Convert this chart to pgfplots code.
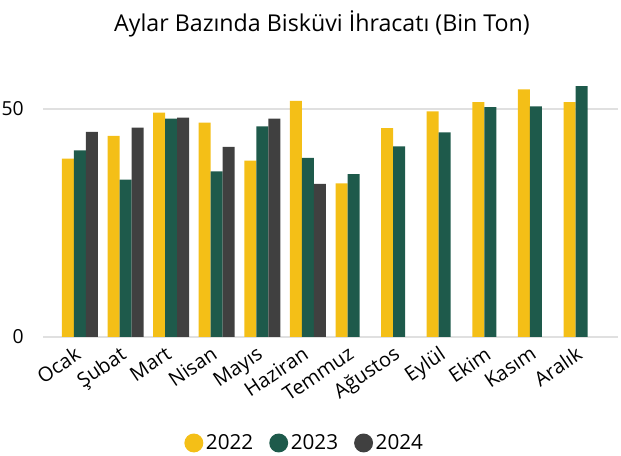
\documentclass[border=0pt]{standalone}
\usepackage{pgfplots}
\pgfplotsset{compat=1.18}
\usepackage{fontspec}
\setmainfont{Open Sans}
\definecolor{cy}{HTML}{F4BF17}
\definecolor{cg}{HTML}{1E5A4B}
\definecolor{cd}{HTML}{404040}
\pgfplotsset{circ/.style={legend image code/.code={\fill[##1] (0pt,0pt) circle (7.1pt);}}}
\pgfplotstableread{
x y
0 39.1
1 44.1
2 49.2
3 47.0
4 38.7
5 51.8
6 33.7
7 45.8
8 49.5
9 51.5
10 54.3
11 51.5
}\dataA
\pgfplotstableread{
x y
0 40.9
1 34.5
2 47.9
3 36.3
4 46.2
5 39.3
6 35.7
7 41.8
8 44.9
9 50.4
10 50.6
11 55.0
}\dataB
\pgfplotstableread{
x y
0 45.0
1 45.9
2 48.1
3 41.7
4 47.9
5 33.6
}\dataC
\begin{document}
\begin{tikzpicture}
\path[use as bounding box] (0,0) rectangle (465.75pt,342pt);
\node[font=\fontsize{17.4}{20}\selectfont, anchor=base] at (241.5pt,318pt) {Aylar Bazında Bisküvi İhracatı (Bin Ton)};
\begin{axis}[
  at={(32.25pt,89.25pt)}, anchor=south west,
  x=34.2pt, y=3.42pt,
  xmin=-0.81, xmax=11.81, ymin=0, ymax=60,
  ybar=0pt, bar width=9pt,
  axis line style={draw=none},
  major tick length=0pt,
  ytick={0,50},
  ymajorgrids, grid style={draw=black!12, line width=0.8pt},
  xtick={0,...,11},
  xticklabels={Ocak,Şubat,Mart,Nisan,Mayıs,Haziran,Temmuz,Ağustos,Eylül,Ekim,Kasım,Aralık},
  xticklabel style={rotate=34, anchor=north east, xshift=-4pt, yshift=1pt, font=\fontsize{15}{17}\selectfont},
  yticklabel style={font=\fontsize{14.5}{17}\selectfont, xshift=-11pt},
  /pgf/number format/assume math mode=true,
  legend columns=3,
  legend style={draw=none, fill=none, at={(0.4553,-0.3874)}, anchor=center,
    font=\fontsize{15.5}{18}\selectfont,
    /tikz/every even column/.append style={column sep=10pt}},
  clip=false,
]
\addplot[fill=cy, draw=none, circ] table[x=x,y=y]{\dataA};
\addplot[fill=cg, draw=none, circ] table[x=x,y=y]{\dataB};
\addplot[fill=cd, draw=none, circ] table[x=x,y=y]{\dataC};
\legend{2022,2023,2024}
\end{axis}
\end{tikzpicture}
\end{document}
